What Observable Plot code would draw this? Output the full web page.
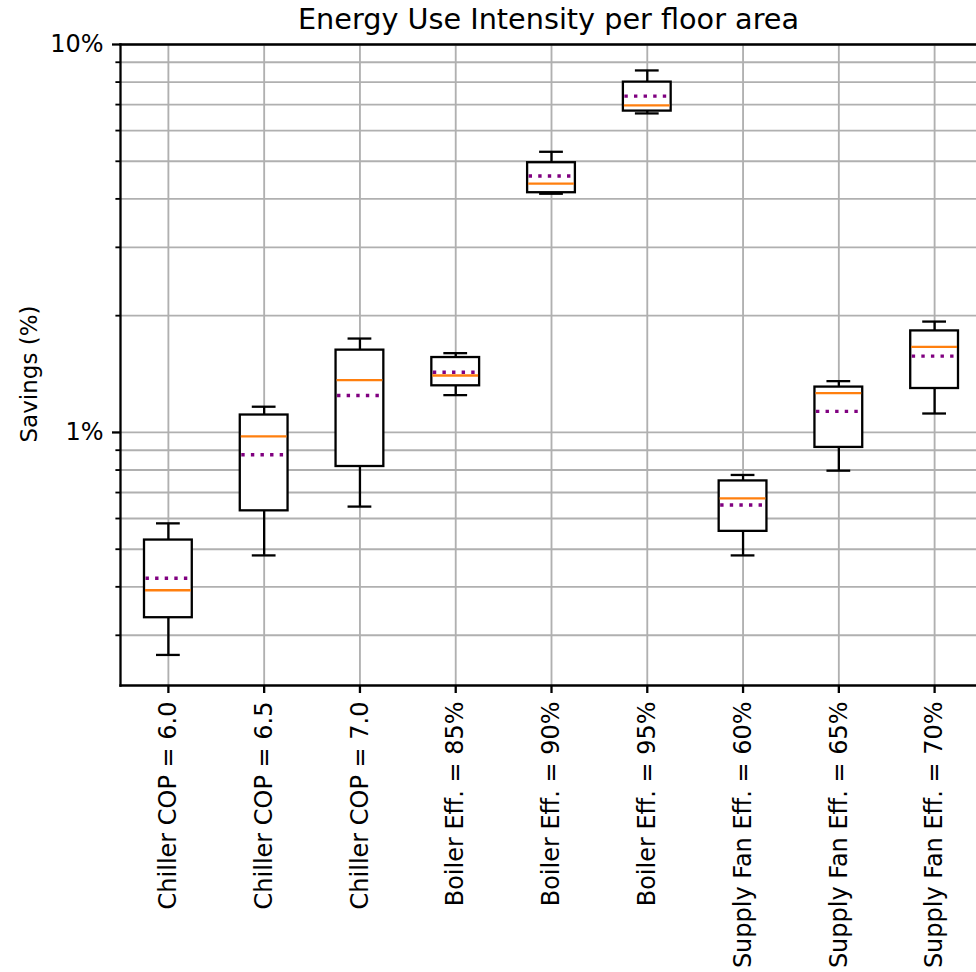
<!DOCTYPE html>
<html>
<head>
<meta charset="utf-8">
<script src="https://cdn.jsdelivr.net/npm/d3@7"></script>
<script src="https://cdn.jsdelivr.net/npm/@observablehq/plot@0.6"></script>
<style>
  html, body { margin: 0; padding: 0; background: white; overflow: hidden; }
  #chart { width: 976px; height: 972px; }
</style>
</head>
<body>
<div id="chart"></div>
<script>
const categories = ["Chiller COP = 6.0","Chiller COP = 6.5","Chiller COP = 7.0","Boiler Eff. = 85%","Boiler Eff. = 90%","Boiler Eff. = 95%","Supply Fan Eff. = 60%","Supply Fan Eff. = 65%","Supply Fan Eff. = 70%"];
const whiskerLow  = [0.267, 0.482, 0.644, 1.248, 4.124, 6.643, 0.482, 0.797, 1.119];
const q1          = [0.333, 0.628, 0.817, 1.319, 4.149, 6.735, 0.556, 0.915, 1.298];
const median      = [0.392, 0.977, 1.364, 1.402, 4.377, 6.967, 0.676, 1.263, 1.662];
const mean        = [0.421, 0.876, 1.245, 1.430, 4.581, 7.362, 0.650, 1.133, 1.573];
const q3          = [0.528, 1.109, 1.630, 1.560, 4.958, 7.998, 0.750, 1.309, 1.827];
const whiskerHigh = [0.583, 1.165, 1.746, 1.601, 5.290, 8.573, 0.777, 1.356, 1.931];

const majorTicks = [1, 10];
const minorTicks = [0.3, 0.4, 0.5, 0.6, 0.7, 0.8, 0.9, 2, 3, 4, 5, 6, 7, 8, 9];
const yDomain = [0.2227, 10];
const titleText = "Energy Use Intensity per floor area";
const yLabelText = "Savings (%)";

const data = categories.map((c, i) => ({
  cat: c, low: whiskerLow[i], q1: q1[i], median: median[i], mean: mean[i], q3: q3[i], high: whiskerHigh[i]
}));

const grid = "#b0b0b0";
const lw = 2.3;

const chart = Plot.plot({
  width: 976,
  height: 972,
  marginLeft: 120,
  marginRight: 0,
  marginTop: 44,
  marginBottom: 287,
  style: { fontFamily: "DejaVu Sans", fontSize: "24px", color: "black", background: "white" },
  x: { type: "band", domain: categories, range: [120, 982], padding: 0, round: false, label: null },
  y: { type: "log", domain: yDomain, label: null },
  marks: [
    Plot.gridY(minorTicks.concat(majorTicks), { stroke: grid, strokeOpacity: 1, strokeWidth: 1.85 }),
    Plot.gridX(categories, { stroke: grid, strokeOpacity: 1, strokeWidth: 1.85 }),
    Plot.ruleX(data, { x: "cat", y1: "low", y2: "q1", stroke: "black", strokeWidth: lw }),
    Plot.ruleX(data, { x: "cat", y1: "q3", y2: "high", stroke: "black", strokeWidth: lw }),
    Plot.tickY(data, { x: "cat", y: "low", stroke: "black", strokeWidth: lw, insetLeft: 36, insetRight: 36 }),
    Plot.tickY(data, { x: "cat", y: "high", stroke: "black", strokeWidth: lw, insetLeft: 36, insetRight: 36 }),
    Plot.barY(data, { x: "cat", y1: "q1", y2: "q3", fill: "white", stroke: "black", strokeWidth: lw, insetLeft: 24, insetRight: 24 }),
    Plot.tickY(data, { x: "cat", y: "median", stroke: "#ff7f0e", strokeWidth: lw, insetLeft: 25, insetRight: 25 }),
    Plot.tickY(data, { x: "cat", y: "mean", stroke: "#800080", strokeWidth: 3.4, strokeDasharray: "3.4 6.2", insetLeft: 25.5, insetRight: 25.5 }),
    Plot.frame({ anchor: "left", stroke: "black", strokeWidth: lw }),
    Plot.frame({ anchor: "top", stroke: "black", strokeWidth: lw }),
    Plot.frame({ anchor: "bottom", stroke: "black", strokeWidth: lw }),
    Plot.axisY(majorTicks, { tickFormat: d => `${d}%`, tickSize: 8, tickPadding: 9, fontSize: 24, label: null, strokeWidth: lw }),
    Plot.axisY(minorTicks, { tickFormat: () => "", tickSize: 4.6, label: null, strokeWidth: 1.85 }),
    Plot.axisX({ tickRotate: -90, tickSize: 8, tickPadding: 8, fontSize: 24, label: null, strokeWidth: lw }),
    Plot.text([titleText], { frameAnchor: "top", dy: -16, lineAnchor: "bottom", fontSize: 28.7, fill: "black" }),
    Plot.text([yLabelText], { frameAnchor: "left", textAnchor: "middle", rotate: -90, dx: -91, dy: 9, fontSize: 23, fill: "black" })
  ]
});
document.getElementById("chart").appendChild(chart);
</script>
</body>
</html>
